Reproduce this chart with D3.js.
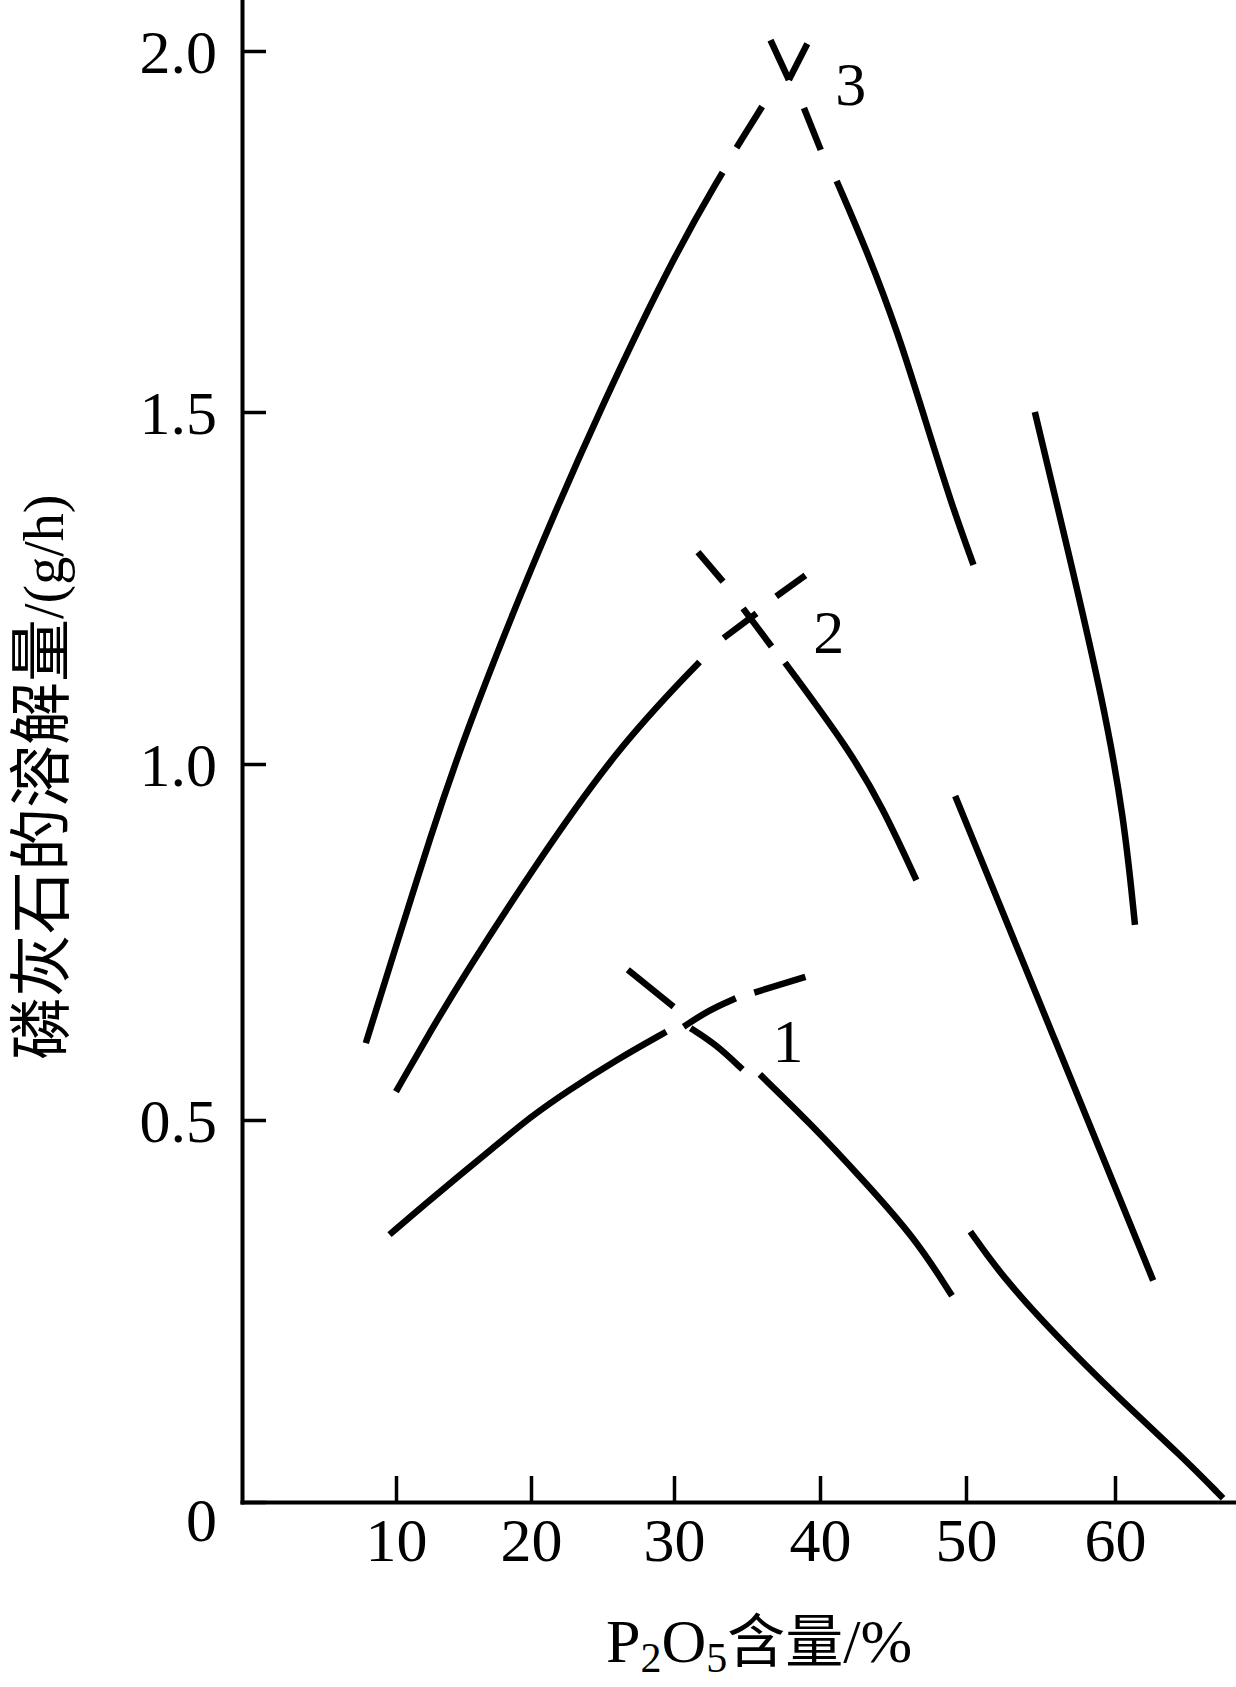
<!DOCTYPE html>
<html><head><meta charset="utf-8">
<script src="https://cdn.jsdelivr.net/npm/d3@7"></script>
<style>body{margin:0;background:#fff}</style>
</head><body>
<svg id="c" width="1236" height="1687"></svg>
<script>
// ---- data ----
const xTicks = [10, 20, 30, 40, 50, 60];
const xTickLabels = ["10", "20", "30", "40", "50", "60"];
const yTicks = [0, 0.5, 1.0, 1.5, 2.0];
const yTickLabels = ["0", "0.5", "1.0", "1.5", "2.0"];
const yTitleCJK = "磷灰石的溶解量";
const yTitleUnit = "/(g/h)";

// curve 1 (segments with gaps)
const curve1Segments = [
  [[9.58,0.35],[12.55,0.396],[17.33,0.4655],[20,0.505],[22.5,0.54],[26,0.585],[29.46,0.624]],
  [[30.66,0.631],[32.44,0.655],[34.23,0.671]],
  [[35.5,0.679],[39.0,0.701]],
  [[26.77,0.711],[29.97,0.659]],
  [[31.14,0.629],[32.9,0.606],[34.69,0.571]],
  [[35.88,0.564],[39.52,0.492],[42.78,0.425],[46.46,0.347],[49.04,0.27]],
  [[50.29,0.354],[52.31,0.298],[55.92,0.22],[60.25,0.136],[64.58,0.058],[67.25,0.005]]
];
// curve 2
const curve2Segments = [
  [[10,0.54],[12.55,0.6245],[15.0,0.702],[20,0.849],[25.99,1.022],[31.75,1.145]],
  [[33.4,1.179],[35.65,1.214]],
  [[37.0,1.238],[39.0,1.268]],
  [[31.64,1.301],[33.36,1.259]],
  [[34.73,1.221],[36.68,1.167]],
  [[37.6,1.144],[41.95,1.022],[44.27,0.94],[46.6,0.837]],
  [[49.26,0.955],[55.92,0.615],[62.56,0.29]]
];
// curve 3
const curve3Segments = [
  [[8.04,0.608],[10,0.744],[12.55,0.898],[15.0,1.037],[20,1.28],[24.96,1.51],[30.22,1.725],[33.33,1.832]],
  [[34.28,1.866],[36.04,1.923]],
  [[37.87,1.96],[39.13,2.01]],
  [[36.61,2.015],[37.87,1.96]],
  [[38.9,1.921],[40.05,1.863]],
  [[41.14,1.82],[43.2,1.724],[45.36,1.609],[47.2,1.489],[49.04,1.367],[50.5,1.283]],
  [[54.62,1.5],[57.0,1.29],[59.17,1.092],[60.61,0.925],[61.34,0.774]]
];
const curveNames = ["1", "2", "3"];
const curveLabelAt = [[37.8,0.581],[40.6,1.158],[42.1,1.925]];

// ---- drawing ----
const svg = d3.select("#c");
const SERIF = "Liberation Serif, Times New Roman, serif";
const CJK = "Noto Sans CJK SC, sans-serif";

const x = d3.scaleLinear()
  .domain([0, 10, 20, 30, 40, 50, 60, 70])
  .range([242, 396, 531, 674, 820, 966, 1115, 1264]);
const y = d3.scaleLinear()
  .domain([0, 0.5, 1, 1.5, 2, 2.2])
  .range([1502, 1120, 764, 412, 51, -93]);

// x axis
const gx = svg.append("g").attr("transform", `translate(0,${y(0)})`)
  .call(d3.axisBottom(x).tickValues(xTicks)
    .tickFormat((d, i) => xTickLabels[i])
    .tickSizeInner(-26).tickSizeOuter(0).tickPadding(15));
gx.select(".domain").attr("stroke", "#000").attr("stroke-width", 4).attr("stroke-linecap", "square");
gx.selectAll(".tick line").attr("stroke", "#000").attr("stroke-width", 3.5);
gx.selectAll(".tick text").attr("font-family", SERIF).attr("font-size", 62).attr("fill", "#000");

// y axis
const gy = svg.append("g").attr("transform", `translate(${x(0)},0)`)
  .call(d3.axisLeft(y).tickValues(yTicks)
    .tickFormat((d, i) => yTickLabels[i])
    .tickSizeInner(-24).tickSizeOuter(0).tickPadding(25));
gy.select(".domain").attr("stroke", "#000").attr("stroke-width", 4).attr("stroke-linecap", "square");
gy.selectAll(".tick line").attr("stroke", "#000").attr("stroke-width", 3.5);
gy.selectAll(".tick text").attr("font-family", SERIF).attr("font-size", 62).attr("fill", "#000")
  .attr("dy", d => d === 0 ? "0.62em" : "0.34em");

// curves
const line = d3.line().x(d => x(d[0])).y(d => y(d[1])).curve(d3.curveBasis);
[curve1Segments, curve2Segments, curve3Segments].forEach(segs => {
  svg.append("g").selectAll("path").data(segs).join("path")
    .attr("d", line).attr("fill", "none").attr("stroke", "#000")
    .attr("stroke-width", 6.5).attr("stroke-linecap", "butt").attr("stroke-linejoin", "round");
});

// curve labels
svg.append("g").selectAll("text").data(curveNames).join("text")
  .attr("x", (d, i) => x(curveLabelAt[i][0]))
  .attr("y", (d, i) => y(curveLabelAt[i][1]))
  .attr("text-anchor", "middle")
  .attr("font-family", SERIF).attr("font-size", 62).attr("fill", "#000")
  .text(d => d);

// x title: P2O5含量/%
const xt = svg.append("text").attr("x", 606).attr("y", 1662)
  .attr("font-family", SERIF).attr("font-size", 62).attr("fill", "#000");
xt.append("tspan").text("P");
xt.append("tspan").attr("font-size", 42).attr("dy", 10).text("2");
xt.append("tspan").attr("dy", -10).text("O");
xt.append("tspan").attr("font-size", 42).attr("dy", 10).text("5");
xt.append("tspan").attr("dy", -10).attr("font-family", CJK).attr("font-size", 58).text("含量");
xt.append("tspan").text("/%");

// y title
const yt = svg.append("text").attr("transform", "translate(63,1060) rotate(-90)")
  .attr("text-anchor", "start").attr("fill", "#000");
yt.append("tspan").attr("font-family", CJK).attr("font-size", 63).text(yTitleCJK);
yt.append("tspan").attr("font-family", SERIF).attr("font-size", 56).text(yTitleUnit);
</script>
</body></html>
